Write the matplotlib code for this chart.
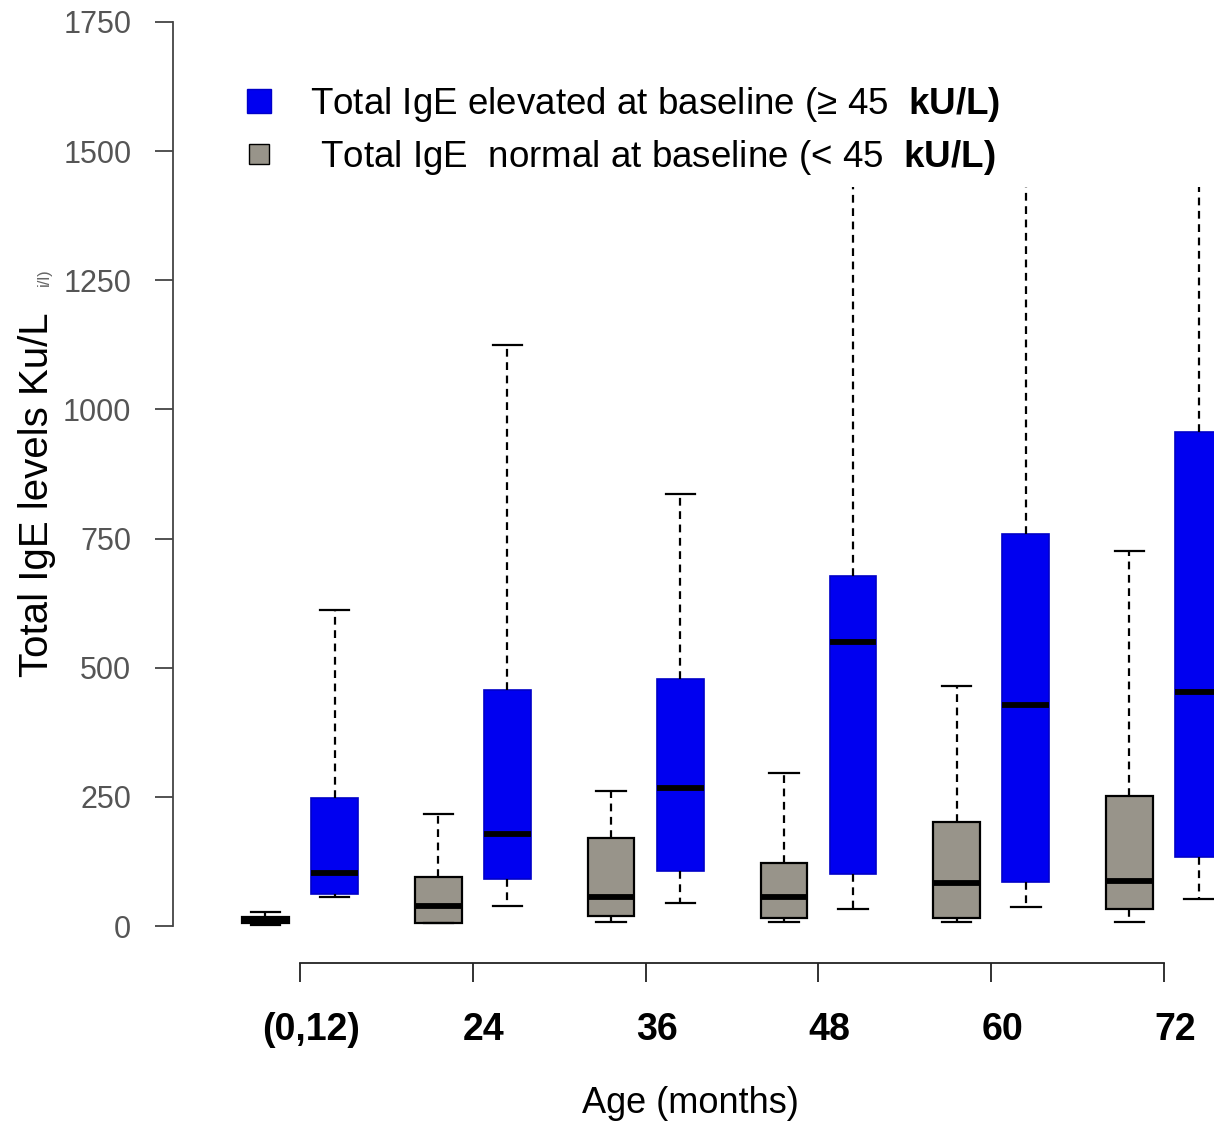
import matplotlib
matplotlib.use("Agg")
import matplotlib.pyplot as plt
import matplotlib.transforms as mtransforms
from matplotlib.lines import Line2D

plt.rcParams['font.family'] = ['Liberation Sans', 'DejaVu Sans']
plt.rcParams['mathtext.fontset'] = 'custom'
plt.rcParams['mathtext.rm'] = 'Liberation Sans'
plt.rcParams['mathtext.bf'] = 'Liberation Sans:bold'

# ---- data (kU/L) ----
age_labels = ["(0,12)", "24", "36", "48", "60", "72"]

normal_lo  = [2, 5, 8, 8, 8, 8]
normal_q1  = [5, 6, 19, 15, 15, 33]
normal_med = [11, 39, 56, 56, 83, 87]
normal_q3  = [18, 95, 170, 122, 201, 252]
normal_hi  = [28, 217, 261, 296, 465, 726]

elev_lo  = [56, 39, 45, 33, 37, 52]
elev_q1  = [62, 91, 106, 100, 85, 133]
elev_med = [103, 178, 267, 550, 428, 453]
elev_q3  = [248, 457, 478, 677, 759, 956]
elev_hi  = [612, 1125, 836, 1430, 1430, 1430]

GREY = "#98948a"
BLUE = "#0000f0"

fig = plt.figure(figsize=(12.14, 11.26), dpi=100)
ax = fig.add_axes([173/1214, 1 - 963/1126, 1 - 173/1214, 963/1126])
ax.set_xlim(-0.735, 5.289)
ax.set_ylim(-71.6, 1792.5)

def stats(lo, q1, med, q3, hi):
    return [dict(whislo=a, q1=b, med=c, q3=d, whishi=e, fliers=[])
            for a, b, c, d, e in zip(lo, q1, med, q3, hi)]

groups = list(range(len(age_labels)))
off = 0.2
w = 0.27

common = dict(widths=w, patch_artist=True, showfliers=False, capwidths=0.17,
              whiskerprops=dict(color="black", linewidth=1.6, linestyle=(0, (3.5, 2.5))),
              capprops=dict(color="black", linewidth=1.6),
              medianprops=dict(color="black", linewidth=4.2, solid_capstyle="butt"))

bg = ax.bxp(stats(normal_lo, normal_q1, normal_med, normal_q3, normal_hi),
            positions=[g - off for g in groups],
            boxprops=dict(facecolor=GREY, edgecolor="black", linewidth=1.6), **common)
bb = ax.bxp(stats(elev_lo, elev_q1, elev_med, elev_q3, elev_hi),
            positions=[g + off for g in groups],
            boxprops=dict(facecolor=BLUE, edgecolor="#0000c8", linewidth=1.2), **common)

# upper whiskers of the last three elevated boxes run off under the legend (no cap)
for i in (3, 4, 5):
    bb['caps'][2 * i + 1].set_visible(False)

# axes styling (R-like)
for s in ("top", "right"):
    ax.spines[s].set_visible(False)
ax.spines['left'].set_bounds(0, 1750)
ax.spines['left'].set_color("#444444")
ax.spines['left'].set_linewidth(1.3)
ax.spines['bottom'].set_bounds(0, 5)
ax.spines['bottom'].set_color("#222222")
ax.spines['bottom'].set_linewidth(1.3)

ax.set_yticks(range(0, 1751, 250))
ax.tick_params(axis='y', direction='out', length=13, width=1.3, color="#444444",
               labelsize=22, labelcolor="#555555", pad=17)
ax.set_xticks(groups)
ax.set_xticklabels(age_labels, fontweight='bold')
ax.tick_params(axis='x', direction='out', length=14, width=1.3, color="#222222",
               labelsize=27, pad=21)
shift = mtransforms.ScaledTranslation(11/100, 0, fig.dpi_scale_trans)
for lbl in ax.get_xticklabels():
    lbl.set_transform(lbl.get_transform() + shift)

ax.set_ylabel("Total IgE levels Ku/L", fontsize=29)
ax.yaxis.set_label_coords(-0.112, 0.486)
ax.set_xlabel("Age (months)", fontsize=26)
ax.xaxis.set_label_coords(0.497, -0.128)
ax.text(-0.124, 0.712, "i/l)", transform=ax.transAxes, rotation=90, fontsize=12,
        color="#666666", ha='center', va='center')

handles = [Line2D([], [], linestyle='none', marker='s', markersize=17,
                  markerfacecolor=BLUE, markeredgecolor="#0000c8"),
           Line2D([], [], linestyle='none', marker='s', markersize=15,
                  markerfacecolor=GREY, markeredgecolor="black")]
labels = [r"Total IgE elevated at baseline (≥ 45  $\mathbf{kU/L)}$",
          r" Total IgE  normal at baseline (< 45  $\mathbf{kU/L)}$"]
leg = ax.legend(handles, labels, loc='upper left', bbox_to_anchor=(207/1214, 1 - 52/1126),
                bbox_transform=fig.transFigure, frameon=False, fontsize=26.5,
                handletextpad=0.9, labelspacing=0.38, handlelength=1.0)

fig.savefig("out.png", dpi=100, facecolor="white")
